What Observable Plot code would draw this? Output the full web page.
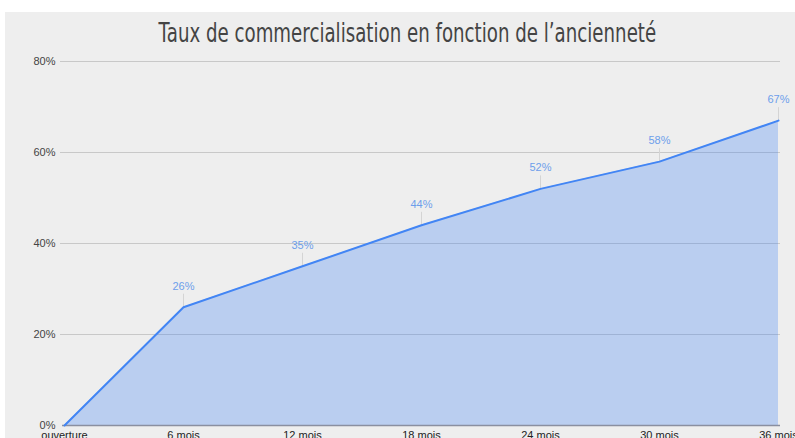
<!DOCTYPE html>
<html>
<head>
<meta charset="utf-8">
<script src="https://cdn.jsdelivr.net/npm/d3@7"></script>
<script src="https://cdn.jsdelivr.net/npm/@observablehq/plot@0.6"></script>
<style>
  html, body { margin: 0; padding: 0; background: #fff; overflow: hidden; }
  #box { position: absolute; left: 5px; top: 12px; width: 790px; height: 426px; background: #eeeeee; overflow: hidden; }
  #title { height: 38px; line-height: 42px; text-align: center; white-space: nowrap; }
  #title span { display: inline-block; font-family: "DejaVu Sans", sans-serif; font-size: 26px; color: #444; transform: scaleX(0.7); transform-origin: center; position: relative; left: 7px; }
  svg { display: block; overflow: visible; }
</style>
</head>
<body>
<div id="box">
  <div id="title"><span>Taux de commercialisation en fonction de l’ancienneté</span></div>
  <div id="chart"></div>
</div>
<script>
const periods = ["ouverture", "6 mois", "12 mois", "18 mois", "24 mois", "30 mois", "36 mois"];
const rates = [0, 26, 35, 44, 52, 58, 67];
const yTicks = [0, 20, 40, 60, 80];

const data = periods.map((p, i) => ({period: p, rate: rates[i]}));
const labelled = data.filter(d => d.rate > 0);

const chart = Plot.plot({
  width: 790,
  height: 400,
  marginLeft: 57,
  marginRight: 15,
  marginTop: 11,
  marginBottom: 25,
  style: {background: "transparent", fontFamily: "Liberation Sans, Arial, sans-serif", fontSize: "11px", color: "#333"},
  x: {type: "point", domain: periods, padding: 0, label: null},
  y: {domain: [0, 80], label: null},
  marks: [
    Plot.ruleY(yTicks.filter(t => t > 0), {stroke: "#c8c8c8", strokeWidth: 1, insetLeft: -2}),
    Plot.areaY(data, {x: "period", y: "rate", fill: "#4285f4", fillOpacity: 0.3, curve: "linear"}),
    Plot.ruleY([0], {stroke: "#8a8fa0", strokeWidth: 1.5}),
    Plot.ruleX(labelled, {x: "period", y1: "rate", y2: "rate", insetTop: -13, stroke: "#d4d4d4", strokeWidth: 1}),
    Plot.lineY(data, {x: "period", y: "rate", stroke: "#4285f4", strokeWidth: 2}),
    Plot.text(labelled, {x: "period", y: "rate", text: d => d.rate + "%", dy: -21, fill: "#6d9eeb", fontSize: 11}),
    Plot.axisY(yTicks, {tickSize: 0, tickPadding: 7, tickFormat: d => d + "%", fill: "#444", fontSize: 11, label: null}),
    Plot.axisX({tickSize: 0, tickPadding: 6, fill: "#222", fontSize: 11, label: null})
  ]
});
document.getElementById("chart").appendChild(chart);
</script>
</body>
</html>
